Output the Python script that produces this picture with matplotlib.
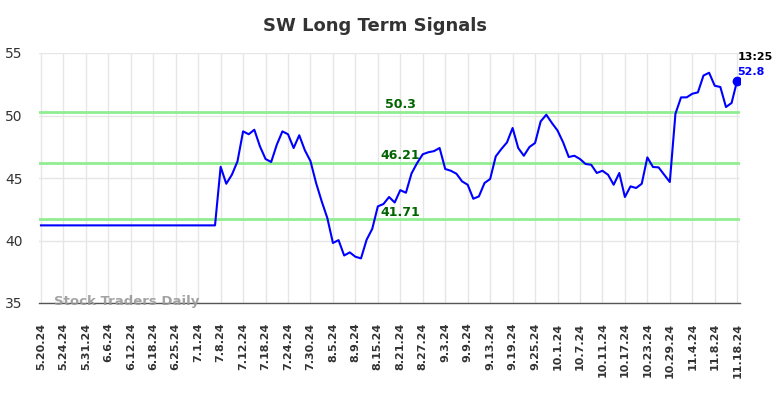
import matplotlib
matplotlib.use("Agg")
import matplotlib.pyplot as plt

tick_labels = ["5.20.24", "5.24.24", "5.31.24", "6.6.24", "6.12.24", "6.18.24", "6.25.24",
               "7.1.24", "7.8.24", "7.12.24", "7.18.24", "7.24.24", "7.30.24", "8.5.24",
               "8.9.24", "8.15.24", "8.21.24", "8.27.24", "9.3.24", "9.9.24", "9.13.24",
               "9.19.24", "9.25.24", "10.1.24", "10.7.24", "10.11.24", "10.17.24",
               "10.23.24", "10.29.24", "11.4.24", "11.8.24", "11.18.24"]
tick_step = 4  # trading days between labels

values = [41.21] * 32 + [
    45.9, 44.54, 45.26, 46.33, 48.73, 48.5, 48.86, 47.53, 46.52, 46.28,
    47.66, 48.73, 48.5, 47.4, 48.42, 47.22, 46.35, 44.6, 43.13, 41.8,
    39.8, 40.03, 38.8, 39.05, 38.7, 38.57, 40.06, 40.93, 42.73, 42.92,
    43.48, 43.04, 44.03, 43.82, 45.37, 46.2, 46.9, 47.06, 47.15, 47.4,
    45.72, 45.58, 45.34, 44.73, 44.46, 43.34, 43.53, 44.6, 44.92, 46.73,
    47.32, 47.85, 49.0, 47.4, 46.78, 47.48, 47.8, 49.53, 50.06, 49.4,
    48.8, 47.85, 46.68, 46.78, 46.52, 46.12, 46.06, 45.4, 45.58, 45.26,
    44.46, 45.4, 43.48, 44.33, 44.2, 44.54, 46.65, 45.88, 45.85, 45.26,
    44.68, 50.14, 51.45, 51.45, 51.74, 51.85, 53.2, 53.42, 52.38, 52.28,
    50.68, 51.0, 52.8]

levels = [50.3, 46.21, 41.71]
level_labels = ["50.3", "46.21", "41.71"]
last_time = "13:25"
last_value_label = "52.8"

fig = plt.figure(figsize=(7.84, 3.98), dpi=100)
ax = fig.add_axes([39 / 784, 1 - 303 / 398, 701 / 784, 250 / 398])

x = list(range(len(values)))
ticks = [i * tick_step for i in range(len(tick_labels))]

ax.set_xlim(-0.35, len(values) - 1 + 0.5)
ax.set_ylim(35, 55)
ax.set_yticks([35, 40, 45, 50, 55])
ax.set_xticks(ticks)
ax.set_xticklabels(tick_labels, rotation=90, fontsize=8, fontweight="bold", color="#333333")
ax.tick_params(axis="x", length=0, pad=14)
ax.tick_params(axis="y", length=0, pad=12, labelsize=10, labelcolor="#333333")

ax.grid(True, color="#e6e6e6", linewidth=1)
ax.set_axisbelow(True)
for s in ["top", "right", "left"]:
    ax.spines[s].set_visible(False)
ax.spines["bottom"].set_color("#555555")
ax.spines["bottom"].set_linewidth(1)

label_x = 64
for lv, lb in zip(levels, level_labels):
    ax.axhline(lv, color="#90ee90", linewidth=2, zorder=2)
    ax.annotate(lb, (label_x, lv), xytext=(0, 2.5), textcoords="offset points",
                ha="center", va="baseline", fontsize=9, fontweight="bold",
                color="#006400", zorder=5)

ax.plot(x, values, color="#0000ff", linewidth=1.5, zorder=4)
ax.plot([x[-1]], [values[-1]], "o", color="#0000ff", markersize=6, zorder=5)
ax.annotate(last_time, (x[-1], values[-1]), xytext=(0, 14.4), textcoords="offset points",
            ha="left", va="baseline", fontsize=8, fontweight="bold", color="#000000")
ax.annotate(last_value_label, (x[-1], values[-1]), xytext=(0, 4.3), textcoords="offset points",
            ha="left", va="baseline", fontsize=8, fontweight="bold", color="#0000ff")

ax.text(0.0214, 0.004, "Stock Traders Daily", transform=ax.transAxes, ha="left", va="center",
        fontsize=9.5, fontweight="bold", color="#999999", alpha=0.9, zorder=3)

fig.text(0.478, 0.935, "SW Long Term Signals", ha="center", va="center",
         fontsize=13, fontweight="bold", color="#333333")

fig.savefig("out.png", dpi=100)
